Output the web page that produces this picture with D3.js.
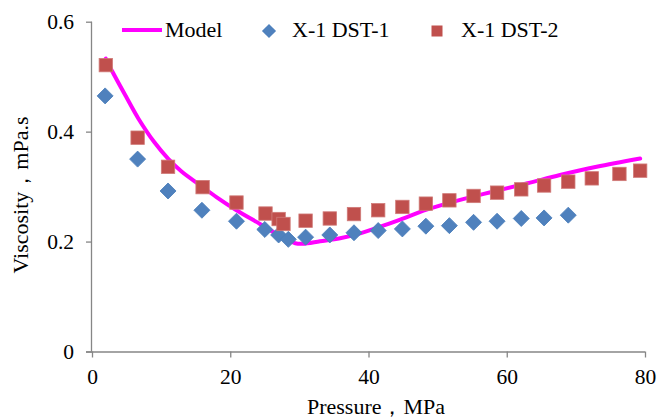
<!DOCTYPE html>
<html>
<head>
<meta charset="utf-8">
<script src="https://cdn.jsdelivr.net/npm/d3@7"></script>
<style>
  html, body { margin: 0; padding: 0; background: #fff; }
  svg { display: block; }
  svg text { font-family: "Times New Roman", "Liberation Serif", Tinos, "DejaVu Serif", serif !important; fill: #000; }
</style>
</head>
<body>
<svg id="chart" width="657" height="418"></svg>
<script>
// ---- data ----
const xTicks = [0, 20, 40, 60, 80];
const yTicks = [0, 0.2, 0.4, 0.6];
const yTickLabels = ["0", "0.2", "0.4", "0.6"];

const modelX = [2.0, 3.0, 5.0, 6.7, 9.0, 11.0, 13.0, 15.6, 18.0, 20.9, 24.3, 27.2, 29.4, 30.5, 33.0, 35.9, 38.8, 41.7, 44.6, 48.4, 53.0, 58.1, 63.0, 67.7, 73.0, 79.3];
const modelY = [0.533, 0.508, 0.462, 0.424, 0.381, 0.351, 0.327, 0.303, 0.281, 0.257, 0.232, 0.210, 0.197, 0.196, 0.2005, 0.206, 0.215, 0.227, 0.240, 0.258, 0.275, 0.291, 0.306, 0.321, 0.336, 0.351];

const dst1X = [1.9, 6.6, 11.0, 15.9, 20.9, 25.0, 27.0, 28.4, 30.9, 34.4, 37.9, 41.4, 44.9, 48.3, 51.7, 55.2, 58.6, 62.1, 65.4, 68.9];
const dst1Y = [0.465, 0.350, 0.292, 0.257, 0.237, 0.222, 0.212, 0.204, 0.208, 0.212, 0.216, 0.220, 0.223, 0.228, 0.229, 0.235, 0.237, 0.242, 0.243, 0.248];

const dst2X = [2.0, 6.6, 11.0, 16.0, 20.9, 25.1, 27.0, 27.7, 30.9, 34.4, 37.9, 41.4, 44.9, 48.3, 51.7, 55.2, 58.6, 62.1, 65.4, 68.9, 72.3, 76.3, 79.3];
const dst2Y = [0.521, 0.389, 0.336, 0.299, 0.271, 0.251, 0.241, 0.232, 0.238, 0.242, 0.250, 0.257, 0.263, 0.269, 0.275, 0.283, 0.289, 0.295, 0.302, 0.309, 0.315, 0.323, 0.329];

const seriesNames = ["Model", "X-1 DST-1", "X-1 DST-2"];
const xTitle = "Pressure，MPa";
const yTitle = "Viscosity，mPa.s";

// ---- styles ----
const C_MODEL = "#FF00FF", C_BLUE = "#4F81BD", C_RED = "#C0504D", C_AXIS = "#868686";
const FONT = "Times New Roman, Liberation Serif, serif";

const svg = d3.select("#chart");
const x = d3.scaleLinear().domain([0, 80]).range([92, 645]);
const y = d3.scaleLinear().domain([0, 0.6]).range([351.5, 21.7]);

// axes
const gx = svg.append("g").attr("transform", `translate(0,${y(0)})`)
  .call(d3.axisBottom(x).tickValues(xTicks).tickSize(6).tickPadding(8).tickFormat(d3.format("d")));
const gy = svg.append("g").attr("transform", `translate(${x(0)},0)`)
  .call(d3.axisLeft(y).tickValues(yTicks).tickSize(6).tickPadding(12).tickFormat((d, i) => yTickLabels[i]));
[gx, gy].forEach(g => {
  g.attr("font-family", FONT).attr("font-size", 21.5);
  g.select(".domain").attr("stroke", C_AXIS).attr("stroke-width", 1.3);
  g.selectAll(".tick line").attr("stroke", C_AXIS).attr("stroke-width", 1.3);
  g.selectAll(".tick text").attr("fill", "#000");
});
gx.select(".domain").attr("d", `M${x(0) - 6},0.5H${x(80)}`);
gy.select(".domain").attr("d", `M-0.5,${y(0.6)}V${y(0)}`);
gx.selectAll(".tick text").attr("dy", "0.85em");

// model line
const modelData = modelX.map((v, i) => [v, modelY[i]]);
svg.append("path").datum(modelData)
  .attr("fill", "none").attr("stroke", C_MODEL).attr("stroke-width", 4)
  .attr("stroke-linejoin", "round").attr("stroke-linecap", "round")
  .attr("d", d3.line().x(d => x(d[0])).y(d => y(d[1])).curve(d3.curveCatmullRom.alpha(0.5)));

// DST-1 diamonds
const diamond = d3.symbol().type(d3.symbolSquare).size(128);
svg.append("g").selectAll("path").data(dst1X.map((v, i) => [v, dst1Y[i]])).join("path")
  .attr("d", diamond)
  .attr("transform", d => `translate(${x(d[0])},${y(d[1])}) rotate(45)`)
  .attr("fill", C_BLUE).attr("stroke", "#4A7EBB").attr("stroke-width", 0.8);

// DST-2 squares
svg.append("g").selectAll("rect").data(dst2X.map((v, i) => [v, dst2Y[i]])).join("rect")
  .attr("x", d => x(d[0]) - 6.7).attr("y", d => y(d[1]) - 6.7)
  .attr("width", 13.4).attr("height", 13.4)
  .attr("fill", C_RED).attr("stroke", "#D07A78").attr("stroke-width", 0.8);

// legend
const lg = svg.append("g").attr("font-family", FONT).attr("font-size", 22);
lg.append("line").attr("x1", 122).attr("x2", 162).attr("y1", 30).attr("y2", 30)
  .attr("stroke", C_MODEL).attr("stroke-width", 4);
lg.append("text").attr("x", 165).attr("y", 37).text(seriesNames[0]);
lg.append("path").attr("d", d3.symbol().type(d3.symbolSquare).size(100))
  .attr("transform", "translate(269,31) rotate(45)").attr("fill", C_BLUE);
lg.append("text").attr("x", 292).attr("y", 37).text(seriesNames[1]);
lg.append("rect").attr("x", 431.5).attr("y", 25.5).attr("width", 11).attr("height", 11).attr("fill", C_RED);
lg.append("text").attr("x", 461).attr("y", 37).text(seriesNames[2]);

// titles
svg.append("text").attr("x", 376).attr("y", 414).attr("text-anchor", "middle")
  .attr("font-family", FONT).attr("font-size", 22).text(xTitle);
svg.append("text").attr("transform", "translate(28,195) rotate(-90)").attr("text-anchor", "middle")
  .attr("font-family", FONT).attr("font-size", 22).text(yTitle);
</script>
</body>
</html>
